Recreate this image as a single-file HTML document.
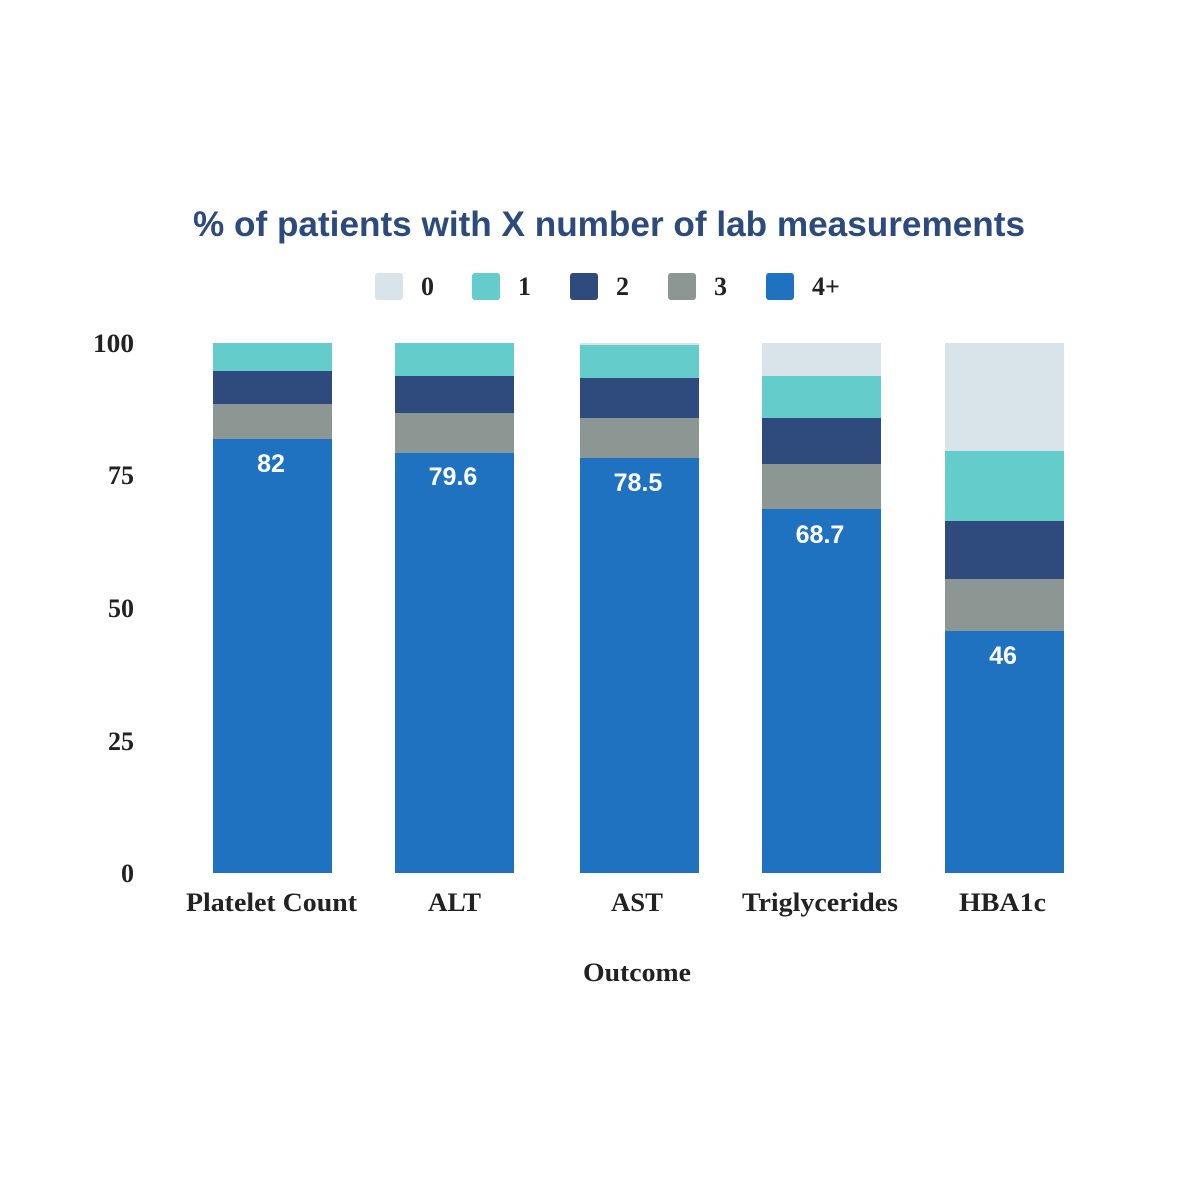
<!DOCTYPE html>
<html><head><style>
body{margin:0;background:#fff;width:1200px;height:1200px;position:relative;overflow:hidden}
svg{position:absolute;left:0;top:0}
</style></head><body>
<svg width="1200" height="1200" xmlns="http://www.w3.org/2000/svg">
<text x="193" y="236" textLength="832" lengthAdjust="spacingAndGlyphs" font-family="Liberation Sans, sans-serif" font-weight="bold" font-size="35" fill="#2c4a7c">% of patients with X number of lab measurements</text>
<g font-family="Liberation Serif, serif" font-weight="bold" font-size="26" fill="#222">
<rect x="375" y="273" width="28" height="27" rx="3" fill="#d8e4ea"/><text x="421" y="295">0</text>
<rect x="472" y="273" width="28" height="27" rx="3" fill="#65cccc"/><text x="518" y="295">1</text>
<rect x="570" y="273" width="28" height="27" rx="3" fill="#2f4a7c"/><text x="616" y="295">2</text>
<rect x="668" y="273" width="28" height="27" rx="3" fill="#8c9692"/><text x="714" y="295">3</text>
<rect x="766" y="273" width="28" height="27" rx="3" fill="#1f72bf"/><text x="812" y="295">4+</text>
<text x="134" y="352" text-anchor="end" textLength="41" lengthAdjust="spacingAndGlyphs">100</text>
<text x="134" y="484" text-anchor="end">75</text>
<text x="134" y="617" text-anchor="end">50</text>
<text x="134" y="750" text-anchor="end">25</text>
<text x="134" y="882" text-anchor="end">0</text>
<text x="186" y="911" textLength="171" lengthAdjust="spacingAndGlyphs">Platelet Count</text>
<text x="428" y="911" textLength="53" lengthAdjust="spacingAndGlyphs">ALT</text>
<text x="611" y="911" textLength="52" lengthAdjust="spacingAndGlyphs">AST</text>
<text x="742" y="911" textLength="156" lengthAdjust="spacingAndGlyphs">Triglycerides</text>
<text x="959" y="911" textLength="87" lengthAdjust="spacingAndGlyphs">HBA1c</text>
<text x="583" y="981" textLength="108" lengthAdjust="spacingAndGlyphs">Outcome</text>
</g>
<g>
<rect x="213" y="343" width="119" height="28" fill="#65cccc"/>
<rect x="213" y="371" width="119" height="33" fill="#2f4a7c"/>
<rect x="213" y="404" width="119" height="35" fill="#8c9692"/>
<rect x="213" y="439" width="119" height="434" fill="#1f72bf"/>

<rect x="395" y="343" width="119" height="33" fill="#65cccc"/>
<rect x="395" y="376" width="119" height="37" fill="#2f4a7c"/>
<rect x="395" y="413" width="119" height="40" fill="#8c9692"/>
<rect x="395" y="453" width="119" height="420" fill="#1f72bf"/>

<rect x="580" y="343" width="119" height="2" fill="#d8e4ea"/>
<rect x="580" y="345" width="119" height="33" fill="#65cccc"/>
<rect x="580" y="378" width="119" height="40" fill="#2f4a7c"/>
<rect x="580" y="418" width="119" height="40" fill="#8c9692"/>
<rect x="580" y="458" width="119" height="415" fill="#1f72bf"/>

<rect x="762" y="343" width="119" height="33" fill="#d8e4ea"/>
<rect x="762" y="376" width="119" height="42" fill="#65cccc"/>
<rect x="762" y="418" width="119" height="46" fill="#2f4a7c"/>
<rect x="762" y="464" width="119" height="45" fill="#8c9692"/>
<rect x="762" y="509" width="119" height="364" fill="#1f72bf"/>

<rect x="945" y="343" width="119" height="108" fill="#d8e4ea"/>
<rect x="945" y="451" width="119" height="70" fill="#65cccc"/>
<rect x="945" y="521" width="119" height="58" fill="#2f4a7c"/>
<rect x="945" y="579" width="119" height="52" fill="#8c9692"/>
<rect x="945" y="631" width="119" height="242" fill="#1f72bf"/>
</g>
<g font-family="Liberation Sans, sans-serif" font-weight="bold" font-size="25" fill="#fff" text-anchor="middle">
<text x="271" y="472">82</text>
<text x="453" y="485">79.6</text>
<text x="638" y="491">78.5</text>
<text x="820" y="543">68.7</text>
<text x="1003" y="664">46</text>
</g>
</svg>
</body></html>
